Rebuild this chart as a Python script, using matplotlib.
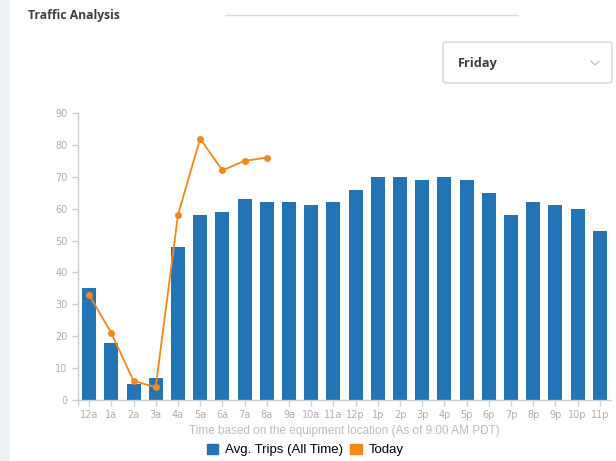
import numpy as np
import matplotlib.pyplot as plt
import matplotlib.patches as mpatches
from matplotlib.patches import FancyBboxPatch
from matplotlib.lines import Line2D

hours = ['12a', '1a', '2a', '3a', '4a', '5a', '6a', '7a', '8a', '9a', '10a', '11a',
         '12p', '1p', '2p', '3p', '4p', '5p', '6p', '7p', '8p', '9p', '10p', '11p']
avg_trips = [35, 18, 5, 7, 48, 58, 59, 63, 62, 62, 61, 62,
             66, 70, 70, 69, 70, 69, 65, 58, 62, 61, 60, 53]
today = [33, 21, 6, 4, 58, 82, 72, 75, 76]

blue = '#2274b5'
orange = '#f7861b'
grey_txt = '#a9b0b8'
axis_col = '#c9ced4'

fig = plt.figure(figsize=(6.16, 4.61), dpi=100)
W, H = 616, 461

# left grey strip of the page
fig.patches.append(mpatches.Rectangle((0, 0), 10 / W, 1, transform=fig.transFigure,
                                      facecolor='#eef1f3', edgecolor='none'))

# header
fig.text(28 / W, 1 - 15 / H, 'Traffic Analysis', fontsize=8.7, fontweight='bold',
         color='#3a3f45', family='Open Sans', va='center', ha='left')
fig.add_artist(Line2D([225 / W, 518 / W], [1 - 15 / H, 1 - 15 / H], transform=fig.transFigure,
                      color='#d5d9dd', lw=1))

# dropdown box
box = FancyBboxPatch((443 / W, 1 - 83 / H), 169 / W, 41 / H, transform=fig.transFigure,
                     boxstyle='round,pad=0,rounding_size=0.006', facecolor='white',
                     edgecolor='#d3d7db', lw=1)
fig.patches.append(box)
fig.text(458 / W, 1 - 63 / H, 'Friday', fontsize=9.2, fontweight='bold', color='#3a3f45',
         family='Open Sans', va='center', ha='left')
fig.add_artist(Line2D([591 / W, 595 / W, 599 / W], [1 - 61 / H, 1 - 65 / H, 1 - 61 / H],
                      transform=fig.transFigure, color='#b5bbc1', lw=0.9))

# chart
ax = fig.add_axes([78 / W, 61 / H, (611 - 78) / W, (400 - 113) / H])
x = np.arange(len(hours))
ax.bar(x, avg_trips, width=0.63, color=blue, zorder=2)
ax.plot(np.arange(len(today)), today, color=orange, lw=1.3, marker='o', markersize=4, zorder=3)

ax.set_xlim(-0.5, len(hours) - 0.5)
ax.set_ylim(0, 90)
ax.set_yticks(range(0, 91, 10))
ax.set_xticks(x)
ax.set_xticklabels(hours)
ax.set_xticks([-0.5], minor=True)

for s in ['top', 'right']:
    ax.spines[s].set_visible(False)
for s in ['left', 'bottom']:
    ax.spines[s].set_color(axis_col)
    ax.spines[s].set_linewidth(1)
ax.tick_params(colors=axis_col, labelcolor=grey_txt, labelsize=7, length=4, width=1)
ax.tick_params(axis='x', which='minor', colors=axis_col, length=4, width=1)
for lab in ax.get_xticklabels() + ax.get_yticklabels():
    lab.set_family('DejaVu Sans')

ax.set_xlabel('Time based on the equipment location (As of 9:00 AM PDT)', fontsize=8.5,
              color='#b8bec4', family='Liberation Sans', labelpad=3)

handles = [mpatches.Patch(color=blue, label='Avg. Trips (All Time)'),
           mpatches.Patch(color=orange, label='Today')]
fig.legend(handles=handles, loc='center', bbox_to_anchor=(305 / W, 1 - 450 / H), ncol=2,
           frameon=False, prop={'family': 'Liberation Sans', 'size': 9.5},
           handlelength=0.85, handleheight=0.85, handletextpad=0.5, columnspacing=0.6)

fig.savefig('out.png', dpi=100)
